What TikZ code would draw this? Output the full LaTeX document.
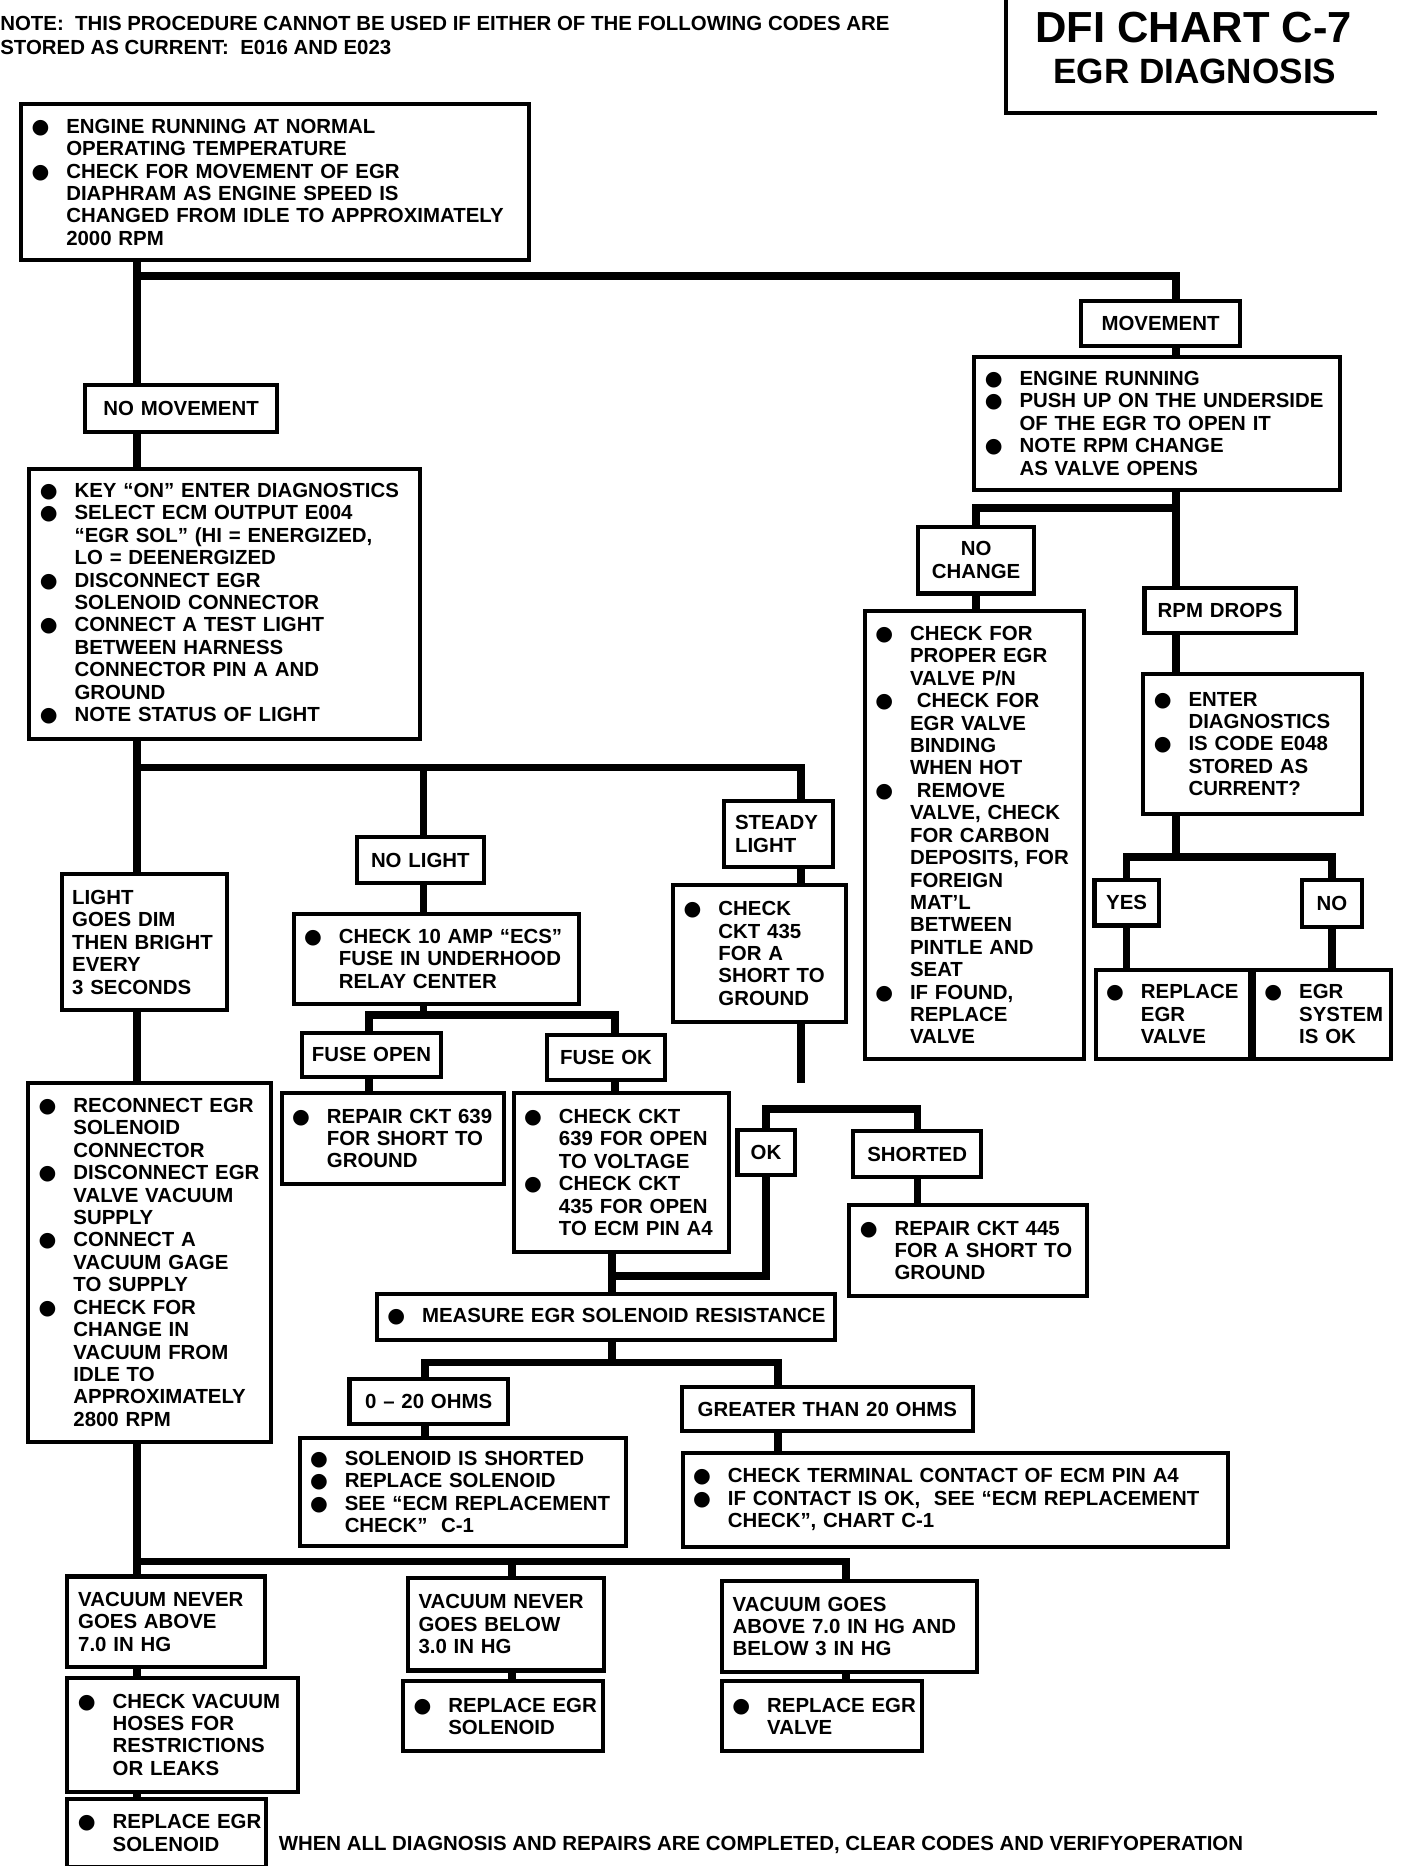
\documentclass[tikz,border=0pt]{standalone}
\usepackage{fontspec}
\usepackage{graphicx}
\usepackage{tikz}
\setmainfont{Liberation Sans}
\newfontfamily\dotfont{DejaVu Sans}
\newcommand{\boxfont}{\fontsize{12.2}{13.4}\selectfont\bfseries}
\newcommand{\notefont}{\fontsize{12.2}{14.9}\selectfont\bfseries}
\newcommand{\bordw}{0.85mm}
\newcommand{\linkw}{1.6mm}
\newcommand{\bul}[1]{\hspace*{2.2mm}\makebox[7.3mm][l]{{\dotfont ●}}\mbox{#1}}
\newcommand{\bct}[1]{\hspace*{9.5mm}\mbox{#1}}
\newcommand{\pln}[1]{\hspace*{2.25mm}\mbox{#1}}

\tikzset{
    box/.style = {draw, line width=\bordw, inner sep=0pt, anchor=north west, align=left, font=\boxfont},
    tag/.style = {box, align=center},
    link/.style = {draw, line width=\linkw, line join=miter},
    boxsize/.code 2 args = {\pgfmathsetlengthmacro\bxw{#1*0.25mm}\pgfmathsetlengthmacro\bxh{#2*0.25mm}\pgfkeysalso{text width=\bxw, minimum height=\bxh}}
}

\begin{document}
\begin{tikzpicture}[x=0.25mm,y=-0.25mm]
            \useasboundingbox (0,0) rectangle (1183,1568);
            %\draw[help lines,step=100] (0,0) grid (1183,1568);

            % header
            \node[anchor=north west, inner sep=0pt, align=left, font=\notefont] (note) at (0,13)
                {NOTE:\ \ THIS PROCEDURE CANNOT BE USED IF EITHER OF THE FOLLOWING CODES ARE\\
                 STORED AS CURRENT:\ \ E016 AND E023};
            \node[font=\fontsize{26}{28}\selectfont\bfseries] (title) at (1003,23) {DFI CHART C-7};
            \node[font=\fontsize{21}{23}\selectfont\bfseries] (subtitle) at (1004,60) {EGR DIAGNOSIS};
            \draw[line width=\bordw] (845,0) -- (845,95) -- (1157,95);

            % left column
            \node[box, boxsize={427}{131}] (start) at (16,86) {
                \bul{ENGINE RUNNING AT NORMAL}\\
                \bct{OPERATING TEMPERATURE}\\
                \bul{CHECK FOR MOVEMENT OF EGR}\\
                \bct{DIAPHRAM AS ENGINE SPEED IS}\\
                \bct{CHANGED FROM IDLE TO APPROXIMATELY}\\
                \bct{2000 RPM}};
            \node[tag, boxsize={161}{39}] (nomove) at (70,322) {NO MOVEMENT};
            \node[box, boxsize={328}{227}] (keyon) at (23,392) {
                \bul{KEY ``ON'' ENTER DIAGNOSTICS}\\
                \bul{SELECT ECM OUTPUT E004}\\
                \bct{``EGR SOL'' (HI = ENERGIZED,}\\
                \bct{LO = DEENERGIZED}\\
                \bul{DISCONNECT EGR}\\
                \bct{SOLENOID CONNECTOR}\\
                \bul{CONNECT A TEST LIGHT}\\
                \bct{BETWEEN HARNESS}\\
                \bct{CONNECTOR PIN A AND}\\
                \bct{GROUND}\\
                \bul{NOTE STATUS OF LIGHT}};
            \node[box, boxsize={139}{114}] (dim) at (50,733) {
                \pln{LIGHT}\\
                \pln{GOES DIM}\\
                \pln{THEN BRIGHT}\\
                \pln{EVERY}\\
                \pln{3 SECONDS}};
            \node[box, boxsize={204}{302}] (reconnect) at (22,908) {
                \bul{RECONNECT EGR}\\
                \bct{SOLENOID}\\
                \bct{CONNECTOR}\\
                \bul{DISCONNECT EGR}\\
                \bct{VALVE VACUUM}\\
                \bct{SUPPLY}\\
                \bul{CONNECT A}\\
                \bct{VACUUM GAGE}\\
                \bct{TO SUPPLY}\\
                \bul{CHECK FOR}\\
                \bct{CHANGE IN}\\
                \bct{VACUUM FROM}\\
                \bct{IDLE TO}\\
                \bct{APPROXIMATELY}\\
                \bct{2800 RPM}};

            % light branches
            \node[tag, boxsize={107}{38}] (nolight) at (298,702) {NO LIGHT};
            \node[box, boxsize={240}{76}] (fusecheck) at (245,766) {
                \bul{CHECK 10 AMP ``ECS''}\\
                \bct{FUSE IN UNDERHOOD}\\
                \bct{RELAY CENTER}};
            \node[tag, boxsize={117}{37}] (fuseopen) at (252,866) {FUSE OPEN};
            \node[tag, boxsize={99}{38}] (fuseok) at (458,868) {FUSE OK};
            \node[box, boxsize={187}{76}] (rep639) at (235,917) {
                \bul{REPAIR CKT 639}\\
                \bct{FOR SHORT TO}\\
                \bct{GROUND}};
            \node[box, boxsize={181}{133}] (ckt639) at (430,917) {
                \bul{CHECK CKT}\\
                \bct{639 FOR OPEN}\\
                \bct{TO VOLTAGE}\\
                \bul{CHECK CKT}\\
                \bct{435 FOR OPEN}\\
                \bct{TO ECM PIN A4}};
            \node[box, boxsize={91}{56}] (steady) at (607,671) {\pln{STEADY}\\ \pln{LIGHT}};
            \node[box, boxsize={145}{115}] (ckt435) at (564,742) {
                \bul{CHECK}\\
                \bct{CKT 435}\\
                \bct{FOR A}\\
                \bct{SHORT TO}\\
                \bct{GROUND}};
            \node[tag, boxsize={48}{38}] (ok) at (618,948) {OK};
            \node[tag, boxsize={108}{38}] (shorted) at (715,949) {SHORTED};
            \node[box, boxsize={200}{76}] (rep445) at (712,1011) {
                \bul{REPAIR CKT 445}\\
                \bct{FOR A SHORT TO}\\
                \bct{GROUND}};

            % solenoid resistance
            \node[box, boxsize={385}{38}] (measure) at (315,1086) {\bul{MEASURE EGR SOLENOID RESISTANCE}};
            \node[tag, boxsize={133}{38}] (ohms) at (292,1157) {0 -- 20 OHMS};
            \node[tag, boxsize={245}{37}] (greater) at (571,1164) {GREATER THAN 20 OHMS};
            \node[box, boxsize={274}{90}] (shortsol) at (250,1207) {
                \bul{SOLENOID IS SHORTED}\\
                \bul{REPLACE SOLENOID}\\
                \bul{SEE ``ECM REPLACEMENT}\\
                \bct{CHECK''\ \ C-1}};
            \node[box, boxsize={458}{79}] (terminal) at (572,1219) {
                \bul{CHECK TERMINAL CONTACT OF ECM PIN A4}\\
                \bul{IF CONTACT IS OK,\ \ SEE ``ECM REPLACEMENT}\\
                \bct{CHECK'', CHART C-1}};

            % vacuum results
            \node[box, boxsize={166}{76}] (vabove) at (55,1323) {\pln{VACUUM NEVER}\\ \pln{GOES ABOVE}\\ \pln{7.0 IN HG}};
            \node[box, boxsize={165}{78}] (vbelow) at (341,1324) {\pln{VACUUM NEVER}\\ \pln{GOES BELOW}\\ \pln{3.0 IN HG}};
            \node[box, boxsize={214}{76}] (vgoes) at (605,1327) {\pln{VACUUM GOES}\\ \pln{ABOVE 7.0 IN HG AND}\\ \pln{BELOW 3 IN HG}};
            \node[box, boxsize={194}{96}] (hoses) at (55,1408) {
                \bul{CHECK VACUUM}\\
                \bct{HOSES FOR}\\
                \bct{RESTRICTIONS}\\
                \bct{OR LEAKS}};
            \node[box, boxsize={167}{57}] (newsol) at (55,1510) {\bul{REPLACE EGR}\\ \bct{SOLENOID}};
            \node[box, boxsize={168}{59}] (newsolb) at (337,1411) {\bul{REPLACE EGR}\\ \bct{SOLENOID}};
            \node[box, boxsize={168}{59}] (newvalve) at (605,1411) {\bul{REPLACE EGR}\\ \bct{VALVE}};
            \node[anchor=north west, inner sep=0pt, font=\notefont] (done) at (234,1543)
                {WHEN ALL DIAGNOSIS AND REPAIRS ARE COMPLETED, CLEAR CODES AND VERIFYOPERATION};

            % right column
            \node[tag, boxsize={133}{38}] (move) at (907,251) {MOVEMENT};
            \node[box, boxsize={307}{112}] (pushup) at (817,298) {
                \bul{ENGINE RUNNING}\\
                \bul{PUSH UP ON THE UNDERSIDE}\\
                \bct{OF THE EGR TO OPEN IT}\\
                \bul{NOTE RPM CHANGE}\\
                \bct{AS VALVE OPENS}};
            \node[tag, boxsize={97}{56}] (nochange) at (770,441) {NO\\CHANGE};
            \node[box, boxsize={184}{376}] (valvecheck) at (725,512) {
                \bul{CHECK FOR}\\
                \bct{PROPER EGR}\\
                \bct{VALVE P/N}\\
                \bul{\ CHECK FOR}\\
                \bct{EGR VALVE}\\
                \bct{BINDING}\\
                \bct{WHEN HOT}\\
                \bul{\ REMOVE}\\
                \bct{VALVE, CHECK}\\
                \bct{FOR CARBON}\\
                \bct{DEPOSITS, FOR}\\
                \bct{FOREIGN}\\
                \bct{MAT'L}\\
                \bct{BETWEEN}\\
                \bct{PINTLE AND}\\
                \bct{SEAT}\\
                \bul{IF FOUND,}\\
                \bct{REPLACE}\\
                \bct{VALVE}};
            \node[tag, boxsize={127}{38}] (rpm) at (960,492) {RPM DROPS};
            \node[box, boxsize={184}{117}] (codecheck) at (959,565) {
                \bul{ENTER}\\
                \bct{DIAGNOSTICS}\\
                \bul{IS CODE E048}\\
                \bct{STORED AS}\\
                \bct{CURRENT?}};
            \node[tag, boxsize={54}{38}] (yes) at (918,738) {YES};
            \node[tag, boxsize={51}{39}] (no) at (1092,738) {NO};
            \node[box, boxsize={130}{75}] (repvalve) at (919,813) {\bul{REPLACE}\\ \bct{EGR}\\ \bct{VALVE}};
            \node[box, boxsize={115}{75}] (sysok) at (1052,813) {\bul{EGR}\\ \bct{SYSTEM}\\ \bct{IS OK}};

            % connector rails and junctions
            \coordinate (lx) at (115,0);
            \coordinate (rx) at (988,0);
            \coordinate (sx) at (673,0);
            \coordinate (nlx) at (356,0);
            \coordinate (fox) at (310,0);
            \coordinate (fkx) at (517,0);
            \coordinate (cx) at (514,0);
            \coordinate (shx) at (771,0);
            \coordinate (ox) at (357,0);
            \coordinate (gx) at (654,0);
            \coordinate (vbx) at (430,0);
            \coordinate (vgx) at (711,0);
            \coordinate (topbar) at (115,232);
            \coordinate (ncbar) at (988,427);
            \coordinate (ynbar) at (988,720);
            \coordinate (lightbar) at (115,645);
            \coordinate (fusebar) at (356,853);
            \coordinate (okbar) at (700,932);
            \coordinate (okjoin) at (514,1072);
            \coordinate (ohmbar) at (514,1145);
            \coordinate (vacbar) at (115,1312);
            \coordinate (ckt435end) at (673,910);

            \draw[link] (start.south -| lx) -- (nomove.north -| lx);
            \draw[link] (topbar) -| (move.north -| rx);
            \draw[link] (nomove.south -| lx) -- (keyon.north -| lx);
            \draw[link] (keyon.south -| lx) -- (dim.north -| lx);
            \draw[link] (dim.south -| lx) -- (reconnect.north -| lx);
            \draw[link] (reconnect.south -| lx) -- (vabove.north -| lx);
            \draw[link] (vabove.south -| lx) -- (hoses.north -| lx);
            \draw[link] (hoses.south -| lx) -- (newsol.north -| lx);

            \draw[link] (lightbar) -| (steady.north -| sx);
            \draw[link] (lightbar -| nlx) -- (nolight.north -| nlx);
            \draw[link] (steady.south -| sx) -- (ckt435.north -| sx);
            \draw[link] (ckt435.south -| sx) -- (ckt435end);
            \draw[link] (nolight.south -| nlx) -- (fusecheck.north -| nlx);
            \draw[link] (fusecheck.south -| nlx) -- (fusebar);
            \draw[link] (fuseopen.north -| fox) |- (fusebar) -| (fuseok.north -| fkx);
            \draw[link] (fuseopen.south -| fox) -- (rep639.north -| fox);
            \draw[link] (fuseok.south -| fkx) -- (ckt639.north -| fkx);
            \draw[link] (ckt639.south -| cx) -- (measure.north -| cx);
            \draw[link] (ok.north) |- (okbar) -| (shorted.north -| shx);
            \draw[link] (ok.south) |- (okjoin);
            \draw[link] (shorted.south -| shx) -- (rep445.north -| shx);

            \draw[link] (measure.south -| cx) -- (ohmbar);
            \draw[link] (ohms.north -| ox) |- (ohmbar) -| (greater.north -| gx);
            \draw[link] (ohms.south -| ox) -- (shortsol.north -| ox);
            \draw[link] (greater.south -| gx) -- (terminal.north -| gx);

            \draw[link] (vacbar) -| (vgoes.north -| vgx);
            \draw[link] (vacbar -| vbx) -- (vbelow.north -| vbx);
            \draw[link] (vbelow.south -| vbx) -- (newsolb.north -| vbx);
            \draw[link] (vgoes.south -| vgx) -- (newvalve.north -| vgx);

            \draw[link] (move.south -| rx) -- (pushup.north -| rx);
            \draw[link] (pushup.south -| rx) -- (rpm.north -| rx);
            \draw[link] (ncbar) -| (nochange.north);
            \draw[link] (nochange.south) -- (valvecheck.north -| nochange.south);
            \draw[link] (rpm.south -| rx) -- (codecheck.north -| rx);
            \draw[link] (codecheck.south -| rx) -- (ynbar);
            \draw[link] (yes.north) |- (ynbar) -| (no.north);
            \draw[link] (yes.south) -- (repvalve.north -| yes.south);
            \draw[link] (no.south) -- (sysok.north -| no.south);
\end{tikzpicture}
\end{document}
